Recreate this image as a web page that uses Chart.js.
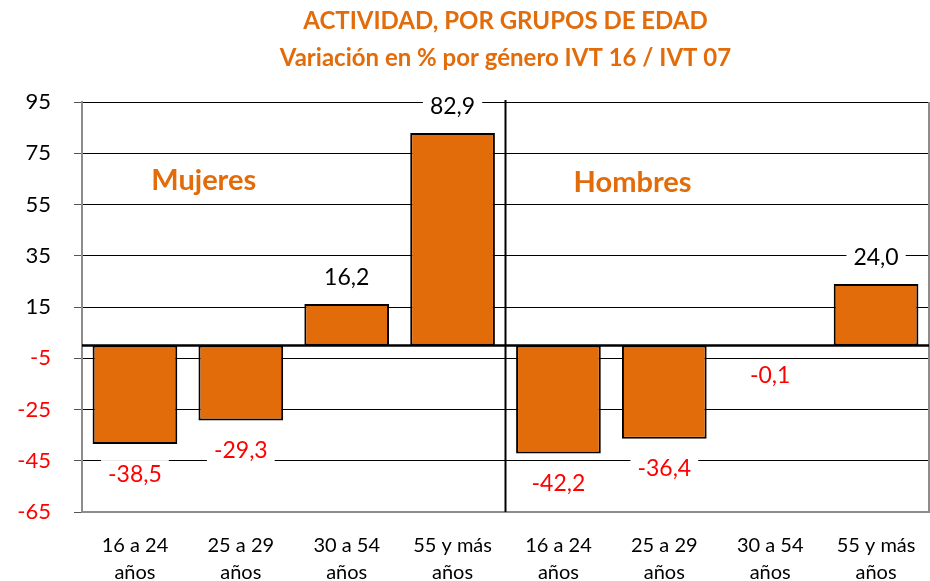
<!DOCTYPE html>
<html>
<head>
<meta charset="utf-8">
<script src="https://cdn.jsdelivr.net/npm/chart.js@4"></script>
<style>
  html, body { margin:0; padding:0; background:#fff; }
  #wrap { width:930px; height:581px; }
</style>
</head>
<body>
<div id="wrap"><canvas id="chart" width="930" height="581"></canvas></div>
<script>
// categorias y valores
const categorias = [
  ['16 a 24','años'], ['25 a 29','años'], ['30 a 54','años'], ['55 y más','años'],
  ['16 a 24','años'], ['25 a 29','años'], ['30 a 54','años'], ['55 y más','años']
];
const variacion = [-38.5, -29.3, 16.2, 82.9, -42.2, -36.4, -0.1, 24.0];
const grupos = ['Mujeres', 'Hombres'];
const titulo = ['ACTIVIDAD, POR GRUPOS DE EDAD', 'Variación en % por género IVT 16 / IVT 07'];

const NARANJA = '#E36C0A';
const FONT = 'Lato, "Open Sans", sans-serif';

const fmt = v => v.toFixed(1).replace('.', ',');

// titulo centrado sobre el area, linea del cero, separador, textos y etiquetas
const extras = {
  id: 'extras',
  afterDraw(chart) {
    const {ctx, chartArea: a, scales: {x, y}} = chart;
    ctx.save();
    const cx = (a.left + a.right) / 2;
    ctx.textAlign = 'center';
    ctx.textBaseline = 'middle';
    ctx.fillStyle = NARANJA;
    ctx.font = 'bold 24px ' + FONT;
    ctx.fillText(titulo[0], cx, 21);
    ctx.fillText(titulo[1], cx, 58);

    // borde gris del area
    ctx.strokeStyle = '#8c8c8c';
    ctx.lineWidth = 2;
    ctx.beginPath();
    ctx.moveTo(a.right, a.top); ctx.lineTo(a.right, a.bottom);
    ctx.stroke();
    // linea del cero
    const y0 = y.getPixelForValue(0);
    ctx.strokeStyle = '#000';
    ctx.lineWidth = 2.5;
    ctx.beginPath();
    ctx.moveTo(a.left, y0); ctx.lineTo(a.right, y0);
    ctx.stroke();
    // separador
    ctx.lineWidth = 2;
    const xs = (x.getPixelForValue(3) + x.getPixelForValue(4)) / 2;
    ctx.beginPath();
    ctx.moveTo(xs, a.top - 2); ctx.lineTo(xs, a.bottom);
    ctx.stroke();

    // textos de grupo
    ctx.fillStyle = NARANJA;
    ctx.font = 'bold 29px ' + FONT;
    ctx.fillText(grupos[0], x.getPixelForValue(0.65), y.getPixelForValue(64.5));
    ctx.fillText(grupos[1], x.getPixelForValue(4.7), y.getPixelForValue(63.4));

    // etiquetas de valores
    ctx.font = '23px ' + FONT;
    const meta = chart.getDatasetMeta(0);
    meta.data.forEach((bar, i) => {
      const v = variacion[i];
      const txt = fmt(v);
      const ty = v >= 0 ? bar.y - 26 : bar.y + 30;
      const w = ctx.measureText(txt).width + 14;
      ctx.fillStyle = '#fff';
      ctx.fillRect(bar.x - w / 2, ty - 14, w, 28);
      ctx.fillStyle = v >= 0 ? '#000' : '#ff0000';
      ctx.fillText(txt, bar.x, ty);
    });
    ctx.restore();
  }
};

new Chart(document.getElementById('chart'), {
  type: 'bar',
  data: {
    labels: categorias,
    datasets: [{
      data: variacion,
      backgroundColor: NARANJA,
      borderColor: '#000',
      borderWidth: 2,
      borderSkipped: false,
      barPercentage: 0.8,
      categoryPercentage: 1
    }]
  },
  options: {
    responsive: false,
    animation: false,
    layout: { padding: { left: 0, right: 1, top: 102, bottom: 0 } },
    plugins: {
      legend: { display: false },
      tooltip: { enabled: false },
      title: { display: false }
    },
    scales: {
      y: {
        min: -65, max: 95,
        afterFit: s => { s.width = 82; },
        ticks: {
          stepSize: 20,
          color: c => c.tick.value < 0 ? '#ff0000' : '#000',
          font: { family: FONT, size: 22 },
          padding: 23
        },
        grid: { color: '#000', lineWidth: 1, tickLength: 8, tickColor: '#555' },
        border: { color: '#8c8c8c', width: 2 }
      },
      x: {
        afterFit: s => { s.height = 69; },
        ticks: {
          color: '#000',
          font: { family: FONT, size: 20, lineHeight: 1.35 },
          maxRotation: 0,
          autoSkip: false,
          padding: 12
        },
        grid: { display: false },
        border: { color: '#8c8c8c', width: 2 }
      }
    }
  },
  plugins: [extras]
});
</script>
</body>
</html>
